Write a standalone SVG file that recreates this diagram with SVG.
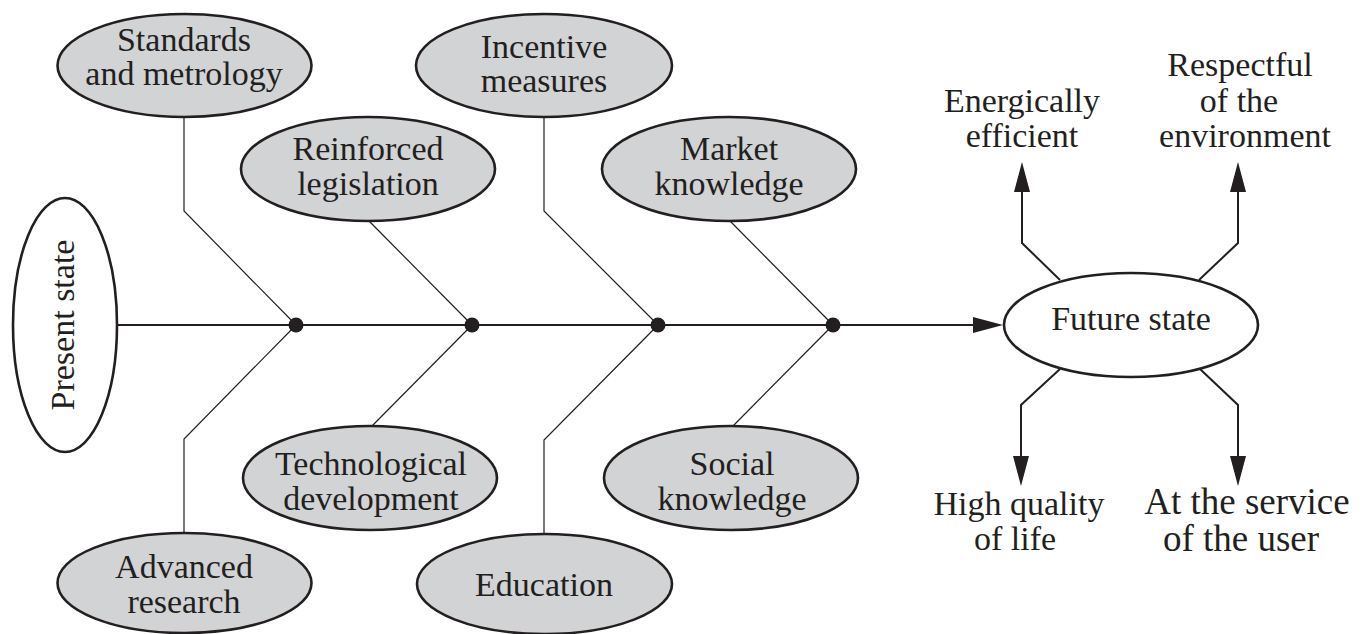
<svg xmlns="http://www.w3.org/2000/svg" width="1370" height="634" viewBox="0 0 1370 634">
<defs>
<style>
.n{fill:#d1d3d4;stroke:#231f20;stroke-width:2.6}
.s{fill:#ffffff;stroke:#231f20;stroke-width:2.6}
.t{font-family:"Liberation Serif","Times New Roman",serif;font-size:34px;fill:#231f20;text-anchor:middle}
.big{font-size:37px}
.thin{fill:none;stroke:#231f20;stroke-width:1.2}
.thick{fill:none;stroke:#231f20;stroke-width:2}
.dot{fill:#231f20}
</style>
<marker id="ah" markerUnits="userSpaceOnUse" markerWidth="32" markerHeight="18" refX="2" refY="8" orient="auto" viewBox="0 0 32 16">
<path d="M0,0 L30,8 L0,16 z" fill="#231f20"/>
</marker>
</defs>
<rect width="1370" height="634" fill="#ffffff"/>

<g id="connectors">
<path class="thick" d="M117,325 H975" marker-end="url(#ah)"/>
<path class="thin" d="M184,117 V211 L296,325"/>
<path class="thin" d="M369,221 L472,325"/>
<path class="thin" d="M544,117 V211 L658,325"/>
<path class="thin" d="M730,221 L833,325"/>
<path class="thin" d="M296,325 L184,439 V533"/>
<path class="thin" d="M472,325 L372,426"/>
<path class="thin" d="M658,325 L544,440 V534"/>
<path class="thin" d="M833,325 L733,426"/>
<circle class="dot" cx="296" cy="325" r="7.5"/>
<circle class="dot" cx="472" cy="325" r="7.5"/>
<circle class="dot" cx="658" cy="325" r="7.5"/>
<circle class="dot" cx="833" cy="325" r="7.5"/>
<path class="thick" d="M1060,280 L1022,243 V190" marker-end="url(#ah)"/>
<path class="thick" d="M1199,280 L1238,243 V190" marker-end="url(#ah)"/>
<path class="thick" d="M1060,369 L1021,405 V458" marker-end="url(#ah)"/>
<path class="thick" d="M1200,369 L1238,405 V458" marker-end="url(#ah)"/>
</g>

<g id="present">
<ellipse class="s" cx="65" cy="325" rx="52" ry="127"/>
<text class="t" x="65" y="334" transform="rotate(-90 65 325)">Present state</text>
</g>

<g id="standards">
<ellipse class="n" cx="184.5" cy="65.5" rx="127" ry="51.5"/>
<text class="t" x="184" y="51">Standards</text>
<text class="t" x="184" y="85">and metrology</text>
</g>

<g id="reinforced">
<ellipse class="n" cx="368" cy="169" rx="127" ry="52"/>
<text class="t" x="368" y="160">Reinforced</text>
<text class="t" x="368" y="195">legislation</text>
</g>

<g id="incentive">
<ellipse class="n" cx="544" cy="65.5" rx="128" ry="51.5"/>
<text class="t" x="544" y="58">Incentive</text>
<text class="t" x="544" y="92">measures</text>
</g>

<g id="market">
<ellipse class="n" cx="729" cy="169" rx="127" ry="52"/>
<text class="t" x="729" y="160">Market</text>
<text class="t" x="729" y="195">knowledge</text>
</g>

<g id="advanced">
<ellipse class="n" cx="184.5" cy="583" rx="127" ry="50"/>
<text class="t" x="184" y="578">Advanced</text>
<text class="t" x="184" y="613">research</text>
</g>

<g id="technological">
<ellipse class="n" cx="370" cy="478" rx="127" ry="52"/>
<text class="t" x="371" y="475">Technological</text>
<text class="t" x="371" y="510">development</text>
</g>

<g id="education">
<ellipse class="n" cx="544.5" cy="584" rx="127.5" ry="50"/>
<text class="t" x="544" y="596">Education</text>
</g>

<g id="social">
<ellipse class="n" cx="731" cy="478" rx="127" ry="52"/>
<text class="t" x="732" y="475">Social</text>
<text class="t" x="732" y="510">knowledge</text>
</g>

<g id="future">
<ellipse class="s" cx="1131" cy="325" rx="127" ry="52"/>
<text class="t" x="1131" y="330">Future state</text>
</g>

<g id="energy">
<text class="t" x="1022" y="112">Energically</text>
<text class="t" x="1022" y="147">efficient</text>
</g>

<g id="respectful">
<text class="t" x="1240" y="76">Respectful</text>
<text class="t" x="1239" y="112">of the</text>
<text class="t" x="1245" y="147">environment</text>
</g>

<g id="quality">
<text class="t" x="1019" y="515">High quality</text>
<text class="t" x="1015" y="550">of life</text>
</g>

<g id="service">
<text class="t big" x="1247" y="514">At the service</text>
<text class="t big" x="1241" y="551">of the user</text>
</g>
</svg>
